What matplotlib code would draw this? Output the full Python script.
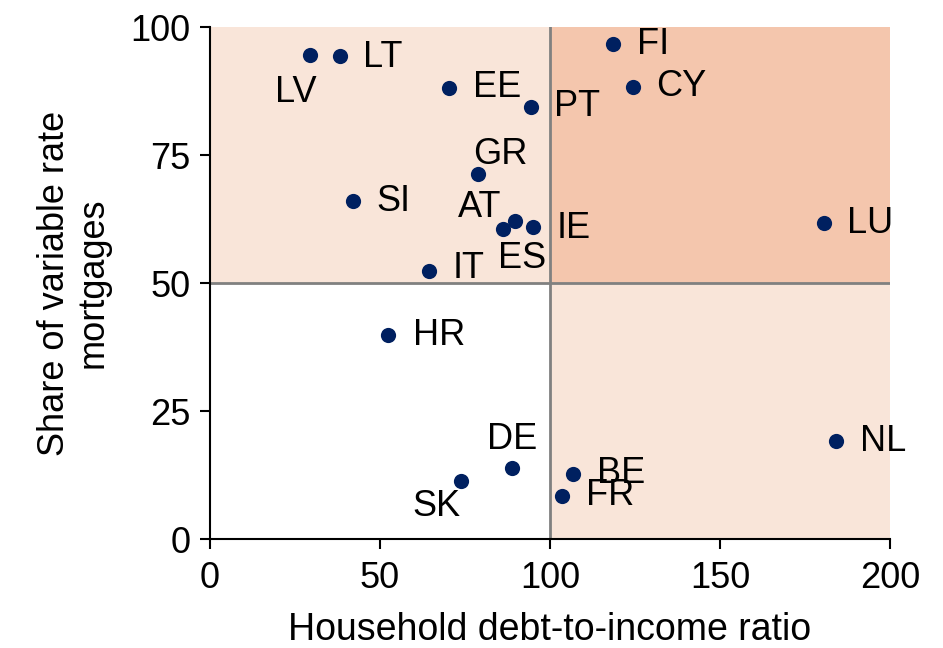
import matplotlib
matplotlib.use('Agg')
from matplotlib import pyplot as plt
from matplotlib.patches import Rectangle

plt.rcParams['font.family'] = ['Liberation Sans', 'DejaVu Sans']

# Data
countries = ['LV', 'LT', 'EE', 'PT', 'FI', 'CY', 'GR', 'SI', 'AT', 'ES',
             'IE', 'LU', 'IT', 'HR', 'NL', 'DE', 'BE', 'SK', 'FR']
debt_to_income = [29.4, 38.2, 70.3, 94.4, 118.5, 124.4, 78.8, 42.1, 89.7, 86.2,
                  95.0, 180.6, 64.4, 52.4, 184.1, 88.8, 106.8, 73.8, 103.5]
variable_share = [94.5, 94.3, 88.1, 84.4, 96.7, 88.3, 71.3, 66.0, 62.1, 60.5,
                  60.9, 61.7, 52.3, 39.8, 19.1, 13.9, 12.7, 11.3, 8.4]

# label placement (offset in pixels, horizontal alignment)
label_pos = {
    'LV': (-14, -37, 'center'), 'LT': (23, -1, 'left'), 'EE': (24, 0, 'left'),
    'PT': (23, 0, 'left'), 'FI': (24, -1, 'left'), 'CY': (23, 0, 'left'),
    'GR': (22, 19, 'center'), 'SI': (23, 0, 'left'), 'AT': (-35, 14, 'center'),
    'ES': (19, -29, 'center'), 'IE': (24, -1, 'left'), 'LU': (23, 0, 'left'),
    'IT': (24, 3, 'left'), 'HR': (25, 0, 'left'), 'NL': (24, 0, 'left'),
    'DE': (0, 28, 'center'), 'BE': (24, 1, 'left'), 'SK': (-24, -25, 'center'),
    'FR': (24, 1, 'left'),
}

light = '#F9E5D9'
dark = '#F4C6AD'
navy = '#002060'
fs = 26

fig = plt.figure(figsize=(9.43, 6.48), dpi=100)
ax = fig.add_axes([0.2227, 0.168, 0.7211, 0.7903])
ax.set_xlim(0, 200)
ax.set_ylim(0, 100)

# quadrant shading
ax.add_patch(Rectangle((0, 50), 100, 50, color=light, zorder=0, lw=0))
ax.add_patch(Rectangle((100, 50), 100, 50, color=dark, zorder=0, lw=0))
ax.add_patch(Rectangle((100, 0), 100, 50, color=light, zorder=0, lw=0))
ax.add_patch(Rectangle((0, 0), 100, 50, color='white', zorder=1.5, lw=0))

ax.axvline(100, color='#808080', lw=2, zorder=2)
ax.axhline(50, color='#808080', lw=2, zorder=2)

ax.scatter(debt_to_income, variable_share, s=120, color=navy, zorder=4, lw=0)

for c, x, y in zip(countries, debt_to_income, variable_share):
    dx, dy, ha = label_pos[c]
    z = 1 if c == 'IT' else 3
    ax.annotate(c, (x, y), xytext=(dx, dy), textcoords='offset pixels',
                ha=ha, va='center', fontsize=fs, zorder=z)

for s in ['top', 'right']:
    ax.spines[s].set_visible(False)
for s in ['left', 'bottom']:
    ax.spines[s].set_linewidth(1.5)
    ax.spines[s].set_zorder(5)

ax.set_xticks([0, 50, 100, 150, 200])
ax.set_yticks([0, 25, 50, 75, 100])
ax.tick_params(axis='both', direction='out', length=7, width=1.5, labelsize=fs)
ax.tick_params(axis='x', pad=9)
ax.tick_params(axis='y', pad=7)
ax.set_xlabel('Household debt-to-income ratio', fontsize=27, labelpad=11)
ax.set_ylabel('Share of variable rate\nmortgages', fontsize=fs, labelpad=14,
              linespacing=1.15)

fig.savefig('out.png', dpi=100)
